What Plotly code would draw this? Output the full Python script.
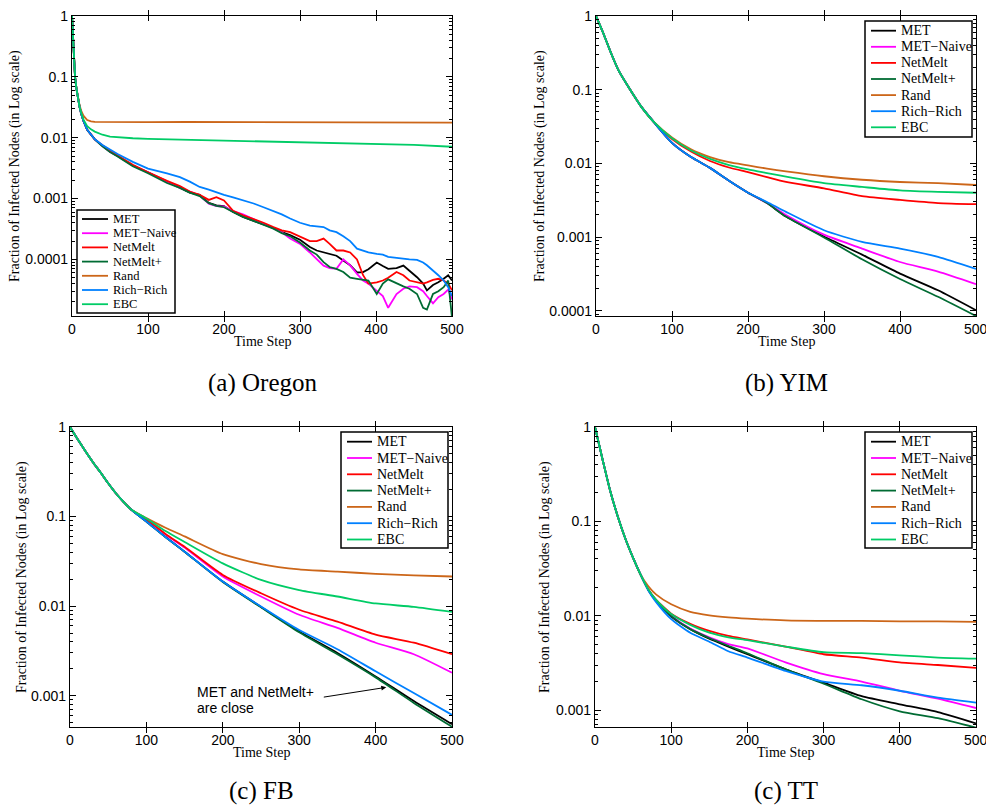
import plotly.graph_objects as go

# ---- series names / colours (legend order) ----
names = ["MET", "MET\u2212Naive", "NetMelt", "NetMelt+", "Rand", "Rich\u2212Rich", "EBC"]
colors = ["#000000", "#FF00FF", "#FF0000", "#006B33", "#CC6619", "#0080FF", "#00CC66"]

# ---- (a) Oregon ----
oregon_t = [0, 1, 2, 3, 4, 6, 8, 10, 12, 15, 20, 25, 30, 40, 50, 60, 80, 100, 125, 142, 155, 168, 180,
            190, 200, 212, 225, 239, 252, 265, 276, 287, 300, 313, 322, 331, 339, 348, 357, 366, 375,
            383, 390, 401, 409, 416, 427, 436, 444, 454, 462, 467, 475, 482, 489, 495, 500]
oregon_start = [1, 0.55, 0.32, 0.18, 0.1, 0.062, 0.042, 0.032, 0.025, 0.019, 0.0135, 0.011, 0.0094]
oregon_met = [0.0074, 0.0059, 0.0050, 0.0035, 0.0027, 0.0019, 0.00152, 0.00125, 0.00115, 0.00085, 0.00077,
              0.00075, 0.00060, 0.00050, 0.00043, 0.00038, 0.00033, 0.00028, 0.00025,
              0.00021, 0.00016, 0.00014, 0.00013, 0.000123, 0.000115, 0.000096, 0.00008, 0.000061,
              0.000062, 0.000069, 0.000089, 0.000078, 0.00007, 0.000072, 0.000079, 0.000065, 0.000051,
              0.00004, 0.000031, 0.000038, 0.000042, 0.000048, 0.000055, 0.000045]
oregon_naive = [0.0073, 0.0059, 0.0050, 0.0035, 0.0027, 0.0019, 0.0015, 0.0013, 0.00112, 0.00082, 0.00075,
                0.00074, 0.00062, 0.00055, 0.00046, 0.00039, 0.00033, 0.00028, 0.00022,
                0.00018, 0.00013, 0.0001, 0.000079, 0.000072, 0.00007, 0.0001, 0.00008, 0.000058,
                0.000045, 0.00004, 0.000031, 0.000025, 0.000016, 0.000027, 0.000033, 0.000036, 0.000035,
                0.00003, 0.000025, 0.000019, 0.000024, 0.000027, 0.000032, 0.000022]
oregon_netmelt = [0.0075, 0.0061, 0.0051, 0.0036, 0.0027, 0.00195, 0.0016, 0.0013, 0.00115, 0.00095, 0.00105,
                  0.00093, 0.00063, 0.00053, 0.00046, 0.0004, 0.00034, 0.0003, 0.00028,
                  0.00024, 0.0002, 0.0002, 0.00022, 0.00018, 0.00014, 0.00014, 0.00013, 0.0001,
                  0.000055, 0.00004, 0.000042, 0.000045, 0.00005, 0.000062, 0.000055, 0.000045, 0.000042,
                  0.00004, 0.000042, 0.000046, 0.000048, 0.000045, 0.00004, 0.000031]
oregon_netmeltp = [0.0072, 0.0058, 0.0049, 0.0034, 0.0026, 0.0018, 0.0015, 0.00125, 0.0011, 0.00084, 0.00076,
                   0.00072, 0.0006, 0.0005, 0.00043, 0.00037, 0.00032, 0.00027, 0.00024,
                   0.00019, 0.00014, 0.00012, 0.00009, 0.000075, 0.00007, 0.000062, 0.00005, 0.000048,
                   0.000047, 0.000045, 0.000027, 0.00004, 0.000047, 0.00004, 0.000036, 0.000033, 0.000027,
                   0.000016, 0.000015, 0.000027, 0.00003, 0.000035, 0.000045, 0.000011]
oregon_rich = [0.0076, 0.0064, 0.0054, 0.004, 0.0031, 0.0026, 0.00225, 0.0019, 0.00155, 0.0014, 0.00125,
               0.00115, 0.00105, 0.00095, 0.00083, 0.00072, 0.00063, 0.00055, 0.00047,
               0.0004, 0.00036, 0.00035, 0.00034, 0.0003, 0.00028, 0.00024, 0.0002, 0.00015,
               0.00014, 0.00013, 0.000123, 0.00012, 0.00011, 0.000105, 0.000103, 0.0001, 0.000098,
               0.000089, 0.00008, 0.000066, 0.000055, 0.000045, 0.000035, 0.000025]
oregon_t_flat = [0, 1, 2, 3, 4, 6, 8, 10, 12, 15, 20, 25, 30, 40, 50, 60, 80, 100, 150, 200, 250, 300,
                 350, 400, 450, 500]
oregon_rand = [1, 0.55, 0.32, 0.18, 0.1, 0.062, 0.043, 0.034, 0.028, 0.023, 0.0195, 0.0185, 0.0182, 0.0181,
               0.0182, 0.0180, 0.0181, 0.0180, 0.0181, 0.0180, 0.0181, 0.0182, 0.0180, 0.0181, 0.0180, 0.0177]
oregon_ebc = [1, 0.55, 0.32, 0.18, 0.1, 0.062, 0.042, 0.032, 0.026, 0.020, 0.0155, 0.0137, 0.0126, 0.0112,
              0.0104, 0.0101, 0.0098, 0.0096, 0.0093, 0.0091, 0.0088, 0.0083, 0.0081, 0.0079, 0.0076, 0.0071]

# ---- (b) YIM ----
yim_t = [0, 10, 20, 30, 45, 60, 76, 100, 125, 150, 175, 200, 225, 250, 300, 350, 400, 450, 500]
yim_start = [1, 0.57, 0.31, 0.18, 0.10, 0.058, 0.0365]
yim_met = [0.019, 0.0122, 0.0087, 0.0058, 0.0040, 0.0029, 0.0019, 0.00102, 0.00058, 0.00032, 0.00019, 0.000102]
yim_naive = [0.019, 0.0122, 0.0087, 0.0058, 0.0040, 0.0029, 0.0020, 0.00108, 0.0007, 0.00046, 0.00034, 0.00023]
yim_netmelt = [0.0215, 0.0145, 0.0108, 0.0088, 0.0076, 0.0065, 0.0056, 0.0046, 0.0036, 0.0032, 0.0029, 0.0028]
yim_netmeltp = [0.019, 0.0122, 0.0087, 0.0058, 0.0040, 0.0029, 0.0019, 0.00099, 0.0005, 0.00027, 0.000155,
                0.000085]
yim_rand = [0.0225, 0.0155, 0.0122, 0.0104, 0.0094, 0.0085, 0.0078, 0.0067, 0.0060, 0.0056, 0.0054, 0.0051]
yim_rich = [0.019, 0.0122, 0.0087, 0.0058, 0.0040, 0.0030, 0.0022, 0.00124, 0.00086, 0.0007, 0.00054, 0.00037]
yim_ebc = [0.022, 0.015, 0.0115, 0.0095, 0.0083, 0.0074, 0.0066, 0.0054, 0.0048, 0.0043, 0.0041, 0.0040]

# ---- (c) FB ----
fb_t = [0, 10, 20, 30, 40, 50, 60, 70, 80, 100, 125, 150, 200, 250, 300, 350, 400, 450, 500]
fb_start = [1, 0.73, 0.54, 0.405, 0.31, 0.235, 0.182, 0.146, 0.12]
fb_met = [0.088, 0.059, 0.0405, 0.0188, 0.0098, 0.0052, 0.0030, 0.00164, 0.00087, 0.00048]
fb_naive = [0.093, 0.063, 0.045, 0.0214, 0.0128, 0.008, 0.0057, 0.0039, 0.0029, 0.0018]
fb_netmelt = [0.093, 0.064, 0.046, 0.0223, 0.0139, 0.0091, 0.0067, 0.0048, 0.0039, 0.0029]
fb_netmeltp = [0.088, 0.059, 0.0405, 0.0186, 0.0097, 0.0051, 0.0029, 0.0016, 0.00083, 0.00045]
fb_rand = [0.096, 0.075, 0.06, 0.038, 0.0295, 0.0257, 0.0243, 0.0229, 0.022, 0.0214]
fb_rich = [0.088, 0.059, 0.0405, 0.0188, 0.0099, 0.0054, 0.0033, 0.00187, 0.00107, 0.00061]
fb_ebc = [0.095, 0.069, 0.052, 0.030, 0.0196, 0.0151, 0.0128, 0.0107, 0.0098, 0.0086]

# ---- (c) TT ----
tt_t = [0, 10, 20, 30, 40, 50, 60, 70, 80, 100, 125, 150, 175, 200, 250, 300, 350, 400, 450, 500]
tt_start = [1, 0.45, 0.21, 0.112, 0.065, 0.041, 0.027]
tt_met = [0.0187, 0.0144, 0.0098, 0.0072, 0.0057, 0.0047, 0.0039, 0.0027, 0.00195, 0.0014, 0.00115, 0.00095,
          0.00072]
tt_naive = [0.0188, 0.0145, 0.0100, 0.0073, 0.0059, 0.0050, 0.0045, 0.0032, 0.0024, 0.0020, 0.0016, 0.00132,
            0.00105]
tt_netmelt = [0.019, 0.0148, 0.0105, 0.0082, 0.0069, 0.0061, 0.0056, 0.0047, 0.0039, 0.0036, 0.0032, 0.0030,
              0.0028]
tt_netmeltp = [0.0187, 0.0144, 0.0099, 0.0072, 0.0058, 0.0048, 0.0040, 0.0027, 0.0019, 0.0013, 0.00097,
               0.00082, 0.00065]
tt_rand = [0.0205, 0.0168, 0.0132, 0.011, 0.0101, 0.0096, 0.0093, 0.0089, 0.0088, 0.0088, 0.0087, 0.0087,
           0.0086]
tt_rich = [0.0185, 0.0140, 0.0092, 0.0066, 0.0053, 0.0042, 0.0036, 0.0026, 0.0020, 0.00183, 0.0016, 0.00135,
           0.0012]
tt_ebc = [0.019, 0.0148, 0.0104, 0.008, 0.0066, 0.0059, 0.0055, 0.0047, 0.0041, 0.0040, 0.0038, 0.0036, 0.0035]

y_majors = [1, 0.1, 0.01, 0.001, 0.0001]
y_major_text = ["1", "0.1", "0.01", "0.001", "0.0001"]
x_ticks = [0, 100, 200, 300, 400, 500]

W, H = 986, 805
SERIF = "Liberation Serif, Times New Roman, serif"
SANS = "Liberation Sans, Arial, sans-serif"

# pixel boxes of the four panels: plot area, log-y bottom, legend box, captions
panels = [
    dict(cap="(a) Oregon", box=(72, 452, 16, 316), ybot=-4.93, shape="linear",
         data=[(oregon_t, oregon_start + oregon_met), (oregon_t, oregon_start + oregon_naive),
               (oregon_t, oregon_start + oregon_netmelt), (oregon_t, oregon_start + oregon_netmeltp),
               (oregon_t_flat, oregon_rand), (oregon_t, oregon_start + oregon_rich),
               (oregon_t_flat, oregon_ebc)],
         leg=(77, 175, 210, 313), row0=219, step=14.2, lx=(82, 108), tx=111, lfs=12.5,
         ytx=15, xtl=342, capy=383),
    dict(cap="(b) YIM", box=(596, 976, 16, 316), ybot=-4.07, shape="spline",
         data=[(yim_t, yim_start + s) for s in
               [yim_met, yim_naive, yim_netmelt, yim_netmeltp, yim_rand, yim_rich, yim_ebc]],
         leg=(865, 972, 21, 137), row0=30.7, step=16.1, lx=(871, 896), tx=899, lfs=14,
         ytx=540, xtl=342, capy=383),
    dict(cap="(c) FB", box=(70, 452, 427, 727), ybot=-3.35, shape="spline",
         data=[(fb_t, fb_start + s) for s in
               [fb_met, fb_naive, fb_netmelt, fb_netmeltp, fb_rand, fb_rich, fb_ebc]],
         leg=(341, 448, 432, 548), row0=441.7, step=16.3, lx=(347, 372), tx=375, lfs=14,
         ytx=22, xtl=752, capy=791),
    dict(cap="(c) TT", box=(595, 976, 427, 727), ybot=-3.18, shape="spline",
         data=[(tt_t, tt_start + s) for s in
               [tt_met, tt_naive, tt_netmelt, tt_netmeltp, tt_rand, tt_rich, tt_ebc]],
         leg=(865, 972, 432, 548), row0=441.7, step=16.3, lx=(871, 896), tx=899, lfs=14,
         ytx=545, xtl=752, capy=791),
]

minors = [m * 10.0 ** e for e in range(-5, 0) for m in range(2, 10)]

def px(x):
    return x / W

def py(y):
    return 1 - y / H

fig = go.Figure()
shapes, annos = [], []

for k, p in enumerate(panels):
    sfx = "" if k == 0 else str(k + 1)
    msfx = str(k + 5)  # overlay axis carrying the minor log ticks
    x0, x1, y0, y1 = p["box"]
    for (tv, yv), name, col in zip(p["data"], names, colors):
        fig.add_trace(go.Scatter(x=tv, y=yv, mode="lines", name=name, showlegend=False,
                                 line=dict(color=col, width=1.8, shape=p["shape"], smoothing=0.6),
                                 xaxis="x" + sfx, yaxis="y" + sfx, hoverinfo="skip"))
    fig.add_trace(go.Scatter(x=[None], y=[None], mode="lines", showlegend=False, hoverinfo="skip",
                             xaxis="x" + sfx, yaxis="y" + msfx))
    fig.layout["xaxis" + sfx] = dict(
        domain=[px(x0), px(x1)], range=[0, 500], anchor="y" + sfx, tickvals=x_ticks, automargin=False,
        ticks="inside", ticklen=5, tickwidth=1, tickcolor="black", showline=True, mirror="allticks",
        linecolor="black", linewidth=1.3, showgrid=False, zeroline=False,
        tickfont=dict(family=SANS, size=14, color="black"))
    fig.layout["yaxis" + sfx] = dict(
        domain=[py(y1), py(y0)], type="log", range=[p["ybot"], 0], anchor="x" + sfx, automargin=False,
        tickvals=y_majors, ticktext=y_major_text, ticks="inside", ticklen=6, tickwidth=1,
        tickcolor="black", showline=True, mirror="allticks", linecolor="black", linewidth=1.3,
        showgrid=False, zeroline=False, tickfont=dict(family=SANS, size=14, color="black"))
    fig.layout["yaxis" + msfx] = dict(
        overlaying="y" + sfx, anchor="x" + sfx, side="left", type="log", range=[p["ybot"], 0],
        tickvals=minors, showticklabels=False, ticks="inside", ticklen=3, tickwidth=1, automargin=False,
        tickcolor="black", showline=True, mirror="allticks", linecolor="black", linewidth=1.3,
        showgrid=False, zeroline=False)

    # the last x label of the right-hand panels runs off the page edge (clipped, as in the source)
    if x1 > W - 15:
        annos.append(dict(text="500", xref="x" + sfx, yref="paper", x=500, y=py(y1 + 13), showarrow=False,
                          xanchor="center", yanchor="middle", font=dict(family=SANS, size=14, color="black")))

    # axis titles and caption
    annos.append(dict(text="Fraction of Infected Nodes (in Log scale)", textangle=-90, xref="paper",
                      yref="paper", x=px(p["ytx"]), y=py((y0 + y1) / 2), showarrow=False,
                      xanchor="center", yanchor="middle", font=dict(family=SERIF, size=14, color="black")))
    annos.append(dict(text="Time Step", xref="paper", yref="paper", x=px((x0 + x1) / 2), y=py(p["xtl"]),
                      showarrow=False, xanchor="center", yanchor="middle",
                      font=dict(family=SERIF, size=14, color="black")))
    annos.append(dict(text=p["cap"], xref="paper", yref="paper", x=px((x0 + x1) / 2), y=py(p["capy"]),
                      showarrow=False, xanchor="center", yanchor="middle",
                      font=dict(family=SERIF, size=25, color="black")))

    # boxed legend
    lx0, lx1, ly0, ly1 = p["leg"]
    shapes.append(dict(type="rect", xref="paper", yref="paper", x0=px(lx0), x1=px(lx1), y0=py(ly1),
                       y1=py(ly0), line=dict(color="black", width=1.5), fillcolor="white"))
    for i, (name, col) in enumerate(zip(names, colors)):
        yy = p["row0"] + i * p["step"]
        shapes.append(dict(type="line", xref="paper", yref="paper", x0=px(p["lx"][0]), x1=px(p["lx"][1]),
                           y0=py(yy), y1=py(yy), line=dict(color=col, width=1.8)))
        annos.append(dict(text=name, xref="paper", yref="paper", x=px(p["tx"]), y=py(yy), showarrow=False,
                          xanchor="left", yanchor="middle",
                          font=dict(family=SERIF, size=p["lfs"], color="black")))

# note in FB panel
for txt, yy in [("MET and NetMelt+", 692), ("are close", 708)]:
    annos.append(dict(text=txt, xref="paper", yref="paper", x=px(195), y=py(yy), showarrow=False,
                      xanchor="left", yanchor="middle", font=dict(family=SANS, size=14, color="black")))
annos.append(dict(text="", xref="x3", yref="y3", x=414, y=-2.907, ax=-64, ay=10, showarrow=True,
                  arrowhead=2, arrowsize=1, arrowwidth=1, arrowcolor="black"))

fig.update_layout(template="none", width=W, height=H, autosize=False, margin=dict(l=0, r=0, t=0, b=0),
                  paper_bgcolor="white", plot_bgcolor="white", showlegend=False,
                  shapes=shapes, annotations=annos)

fig.write_html("out.html", config={"displayModeBar": False},
               post_script="document.body.style.margin='0px';")
